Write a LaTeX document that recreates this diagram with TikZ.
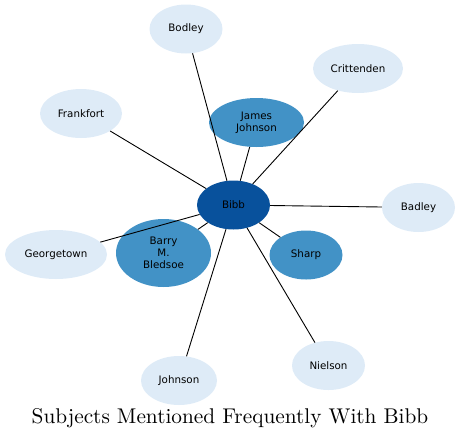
\documentclass[tikz,border=0pt]{standalone}
\usepackage{fontspec}
\newfontfamily\nodefont{DejaVu Sans}
\newfontfamily\titlefont{lmroman10-regular}[Extension=.otf]
\usetikzlibrary{shapes.geometric}
\definecolor{lightblue}{HTML}{DEEBF7}
\definecolor{midblue}{HTML}{4292C6}
\definecolor{darkblue}{HTML}{08519C}

\begin{document}
\begin{tikzpicture}[
    x=1pt, y=-1pt,
    subject/.style={ellipse, draw=none, fill=lightblue, inner sep=0pt, minimum width=73pt, minimum height=49pt, align=center, font=\nodefont\fontsize{10.3}{12}\selectfont},
    frequent/.style={subject, fill=midblue},
    centre/.style={subject, fill=darkblue},
    link/.style={draw=black, line width=0.9pt}
]
\useasboundingbox (0,0) rectangle (460,440);
\node[centre] (bibb) at (233.5,205) {Bibb};
\node[frequent, minimum width=95pt] (jj) at (256.5,122.5) {James\\Johnson};
\node[frequent, minimum width=95pt, minimum height=68pt] (barry) at (163.5,253) {Barry\\M.\\Bledsoe};
\node[frequent] (sharp) at (306,255) {Sharp};
\node[subject] (bodley) at (186,29) {Bodley};
\node[subject, minimum width=90pt] (crit) at (358,68.5) {Crittenden};
\node[subject, minimum width=82pt] (frank) at (81,113.5) {Frankfort};
\node[subject] (badley) at (418.5,207.5) {Badley};
\node[subject, minimum width=102pt] (george) at (56,254.5) {Georgetown};
\node[subject, minimum width=76pt] (johnson) at (179,380.5) {Johnson};
\node[subject] (nielson) at (328.5,365.5) {Nielson};

\draw[link] (bibb) -- (bodley);
\draw[link] (bibb) -- (crit);
\draw[link] (bibb) -- (jj);
\draw[link] (bibb) -- (frank);
\draw[link] (bibb) -- (badley);
\draw[link] (bibb) -- (george);
\draw[link] (bibb) -- (barry);
\draw[link] (bibb) -- (sharp);
\draw[link] (bibb) -- (johnson);
\draw[link] (bibb) -- (nielson);

\node[font=\titlefont\fontsize{21.3}{24}\selectfont] (title) at (230,418) {Subjects Mentioned Frequently With Bibb};
\end{tikzpicture}
\end{document}
